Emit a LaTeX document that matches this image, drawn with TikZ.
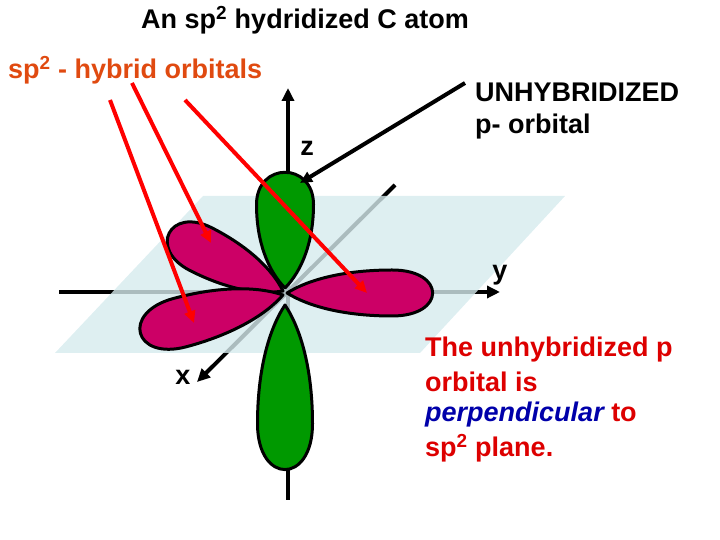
\documentclass[tikz,border=0pt]{standalone}
\usepackage{fontspec}
\setmainfont{Liberation Sans}
\usetikzlibrary{arrows.meta}
\definecolor{lobeg}{HTML}{009900}
\definecolor{lobem}{HTML}{CC0066}
\definecolor{planec}{HTML}{D6EBEE}
\definecolor{orng}{HTML}{E04A10}
\definecolor{redt}{HTML}{DD0000}
\definecolor{bluet}{HTML}{0000AA}
\tikzset{
  lobe/.style={draw=black,line width=3pt,line join=round},
  axis/.style={line width=4pt,-{Triangle[length=13pt,width=12pt]}},
  ptr/.style={line width=4pt,-{Triangle[length=12pt,width=11pt]}},
  lbl/.style={font=\bfseries\fontsize{27}{32}\selectfont,inner sep=0pt},
}
\newcommand{\lobepath}[2]{(0,0) .. controls (0.15*#1,0.3*#2) and (0.4*#1,0.5*#2) .. (0.72*#1,0.5*#2) .. controls (1.09*#1,0.5*#2) and (1.09*#1,-0.5*#2) .. (0.72*#1,-0.5*#2) .. controls (0.4*#1,-0.5*#2) and (0.15*#1,-0.3*#2) .. (0,0) -- cycle}
\begin{document}
\begin{tikzpicture}[x=1pt,y=1pt]
\useasboundingbox (0,0) rectangle (720,540);
% axes
\coordinate (zb) at (288,40); \coordinate (zt) at (288,452);
\coordinate (yl) at (59,248); \coordinate (yr) at (500,248);
\coordinate (xt) at (395,355); \coordinate (xb) at (197,158);
\draw[axis] (zb) -- (zt);
\draw[axis] (yl) -- (yr);
\draw[axis] (xt) -- (xb);
% plane
\fill[planec,opacity=0.8] (203,344) -- (565,344) -- (420,187) -- (55,187) -- cycle;
% lobes
\begin{scope}[shift={(285,252)},rotate=90]
\filldraw[lobe,fill=lobeg] \lobepath{116}{57};
\end{scope}
\begin{scope}[shift={(285,235)},rotate=-90]
\filldraw[lobe,fill=lobeg] \lobepath{165}{55};
\end{scope}
\begin{scope}[shift={(283,249)},rotate=153]
\filldraw[lobe,fill=lobem] \lobepath{128}{48};
\end{scope}
\begin{scope}[shift={(283,245)},rotate=195]
\filldraw[lobe,fill=lobem] \lobepath{148}{50};
\end{scope}
\begin{scope}[shift={(287,247)},rotate=0]
\filldraw[lobe,fill=lobem] \lobepath{146}{46};
\end{scope}
% texts
\node[lbl] (title) at (305,520) {An sp\textsuperscript{2} hydridized C atom};
\node[lbl,text=orng,anchor=west] (hyb) at (8,470) {sp\textsuperscript{2} - hybrid orbitals};
\node[lbl,anchor=west,align=left] (unh) at (475,429) {UNHYBRIDIZED\\[0pt]p- orbital};
\node[lbl] (zl) at (307,392) {z};
\node[lbl] (yl2) at (500,265) {y};
\node[lbl] (xl) at (183,163) {x};
\node[lbl,text=redt,anchor=west] (t1) at (425,190) {The unhybridized p};
\node[lbl,text=redt,anchor=west] (t2) at (425,158) {orbital is};
\node[lbl,text=redt,anchor=west] (t3) at (425,125) {\textcolor{bluet}{\itshape perpendicular} to};
\node[lbl,text=redt,anchor=west] (t4) at (425,92) {sp\textsuperscript{2} plane.};
% pointers
\coordinate (r1s) at (110,440); \coordinate (r1e) at (194,217);
\coordinate (r2s) at (132,457); \coordinate (r2e) at (211,297);
\coordinate (r3s) at (185,440); \coordinate (r3e) at (367,247);
\coordinate (bs) at (465,457); \coordinate (be) at (300,357);
\draw[ptr,red] (r1s) -- (r1e);
\draw[ptr,red] (r2s) -- (r2e);
\draw[ptr,red] (r3s) -- (r3e);
\draw[ptr,black] (bs) -- (be);
\end{tikzpicture}
\end{document}
